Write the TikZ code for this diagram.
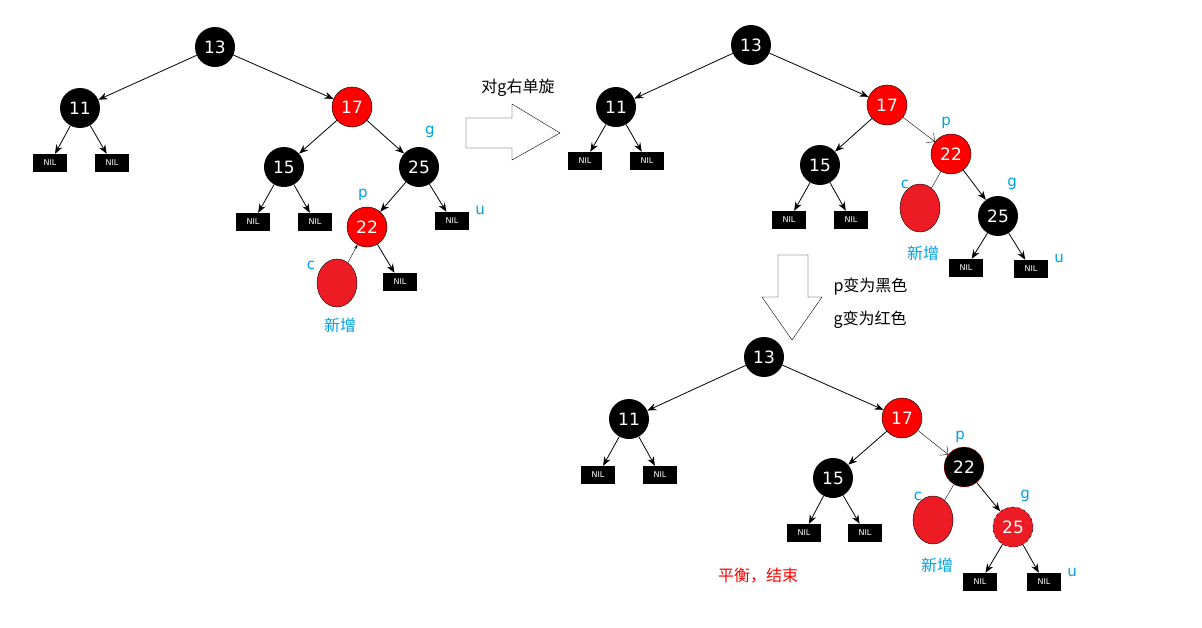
\documentclass[tikz,border=0pt]{standalone}
\usepackage{fontspec}
\setmainfont{DejaVu Sans}
\newfontfamily\cjk{Noto Sans CJK SC}
\usetikzlibrary{arrows.meta,shapes.geometric}
\definecolor{lblue}{RGB}{0,160,230}
\definecolor{nred}{RGB}{237,28,36}
\begin{document}
\begin{tikzpicture}[x=1pt,y=-1pt,
 bk/.style={circle,fill=black,minimum size=40pt,inner sep=0pt,text=white,font=\fontsize{17}{17}\selectfont},
 rd/.style={bk,fill=red,draw=black,thin},
 nil/.style={fill=black,minimum width=34pt,minimum height=18pt,inner sep=0pt,text=white,font=\fontsize{8}{8}\selectfont},
 newn/.style={ellipse,fill=nred,draw=black,minimum width=40pt,minimum height=48pt,inner sep=0pt},
 lb/.style={text=lblue,font=\fontsize{15}{15}\selectfont},
 cn/.style={text=lblue,font=\cjk\fontsize{16}{16}\selectfont},
 ed/.style={-{Stealth[length=9pt,width=7pt]},thick},
 txt/.style={font=\cjk\fontsize{16}{16}\selectfont}]
\useasboundingbox (0,0) rectangle (1202,627);
% Tree 1
\node[bk] (a13) at (215,47) {13};
\node[bk] (a11) at (80,108) {11};
\node[rd] (a17) at (352,107) {17};
\node[nil] (an1) at (50,163) {NIL};
\node[nil] (an2) at (112,163) {NIL};
\node[bk] (a15) at (284,167) {15};
\node[bk] (a25) at (419,167) {25};
\node[nil] (an3) at (253,222) {NIL};
\node[nil] (an4) at (315,222) {NIL};
\node[rd] (a22) at (367,227) {22};
\node[nil] (an5) at (452,221) {NIL};
\node[newn] (ac) at (337,283) {};
\node[nil] (an6) at (400,282) {NIL};
\foreach \s/\t in {a13/a11,a13/a17,a11/an1,a11/an2,a17/a15,a17/a25,a15/an3,a15/an4,a25/a22,a25/an5,a22/an6}
  \draw[ed] (\s) -- (\t);
\draw[thin,-{Stealth[length=4pt]}] (ac) -- (a22);
\node[lb] (ap) at (363,195) {p};
\node[lb] (ag) at (430,132) {g};
\node[lb] (au) at (480,210) {u};
\node[lb] (acl) at (311,265) {c};
\node[cn] (anew) at (340,325) {新增};
% block arrow right
\draw[thin] (466,118) -- (512,118) -- (512,104) -- (560,133) -- (512,160) -- (512,148) -- (466,148) -- cycle;
\node[txt] (t1) at (518,88) {对g右单旋};
% Tree 2
\node[bk] (b13) at (751,45) {13};
\node[bk] (b11) at (616,107) {11};
\node[rd] (b17) at (887,105) {17};
\node[nil] (bn1) at (585,161) {NIL};
\node[nil] (bn2) at (647,161) {NIL};
\node[bk] (b15) at (820,165) {15};
\node[nil] (bn3) at (789,220) {NIL};
\node[nil] (bn4) at (851,220) {NIL};
\node[rd] (b22) at (951,154) {22};
\node[newn] (bc) at (920,208) {};
\node[bk] (b25) at (998,216) {25};
\node[nil] (bn5) at (966,268) {NIL};
\node[nil] (bn6) at (1031,269) {NIL};
\foreach \s/\t in {b13/b11,b13/b17,b11/bn1,b11/bn2,b17/b15,b15/bn3,b15/bn4,b22/b25,b25/bn5,b25/bn6}
  \draw[ed] (\s) -- (\t);
\draw[thin,-{Straight Barb[length=6pt]}] (b17) -- (b22);
\draw[thin] (bc) -- (b22);
\node[lb] (bp) at (946,123) {p};
\node[lb] (bcl) at (905,184) {c};
\node[lb] (bg) at (1012,184) {g};
\node[lb] (bu) at (1059,258) {u};
\node[cn] (bnew) at (923,253) {新增};
% block arrow down
\draw[thin] (778,255) -- (808,255) -- (808,297) -- (822,297) -- (792,340) -- (762,297) -- (778,297) -- cycle;
\node[txt,anchor=west] (t2) at (830,287) {p变为黑色};
\node[txt,anchor=west] (t3) at (830,320) {g变为红色};
% Tree 3
\node[bk] (c13) at (764,357) {13};
\node[bk] (c11) at (629,419) {11};
\node[rd] (c17) at (902,418) {17};
\node[nil] (cn1) at (598,475) {NIL};
\node[nil] (cn2) at (660,475) {NIL};
\node[bk] (c15) at (833,478) {15};
\node[nil] (cn3) at (804,533) {NIL};
\node[nil] (cn4) at (865,533) {NIL};
\node[bk,draw=red,dashed,thin] (c22) at (964,467) {22};
\node[newn] (cc) at (933,520) {};
\node[rd,fill=nred,dashed] (c25) at (1013,527) {25};
\node[nil] (cn5) at (980,582) {NIL};
\node[nil] (cn6) at (1044,582) {NIL};
\foreach \s/\t in {c13/c11,c13/c17,c11/cn1,c11/cn2,c17/c15,c15/cn3,c15/cn4,c22/c25,c25/cn5,c25/cn6}
  \draw[ed] (\s) -- (\t);
\draw[thin,-{Straight Barb[length=6pt]}] (c17) -- (c22);
\draw[thin] (cc) -- (c22);
\node[lb] (cp) at (960,437) {p};
\node[lb] (ccl) at (918,496) {c};
\node[lb] (cg) at (1025,496) {g};
\node[lb] (cu) at (1072,572) {u};
\node[cn] (cnew) at (937,565) {新增};
\node[txt,text=red] (t4) at (758,576) {平衡，结束};
\end{tikzpicture}
\end{document}
